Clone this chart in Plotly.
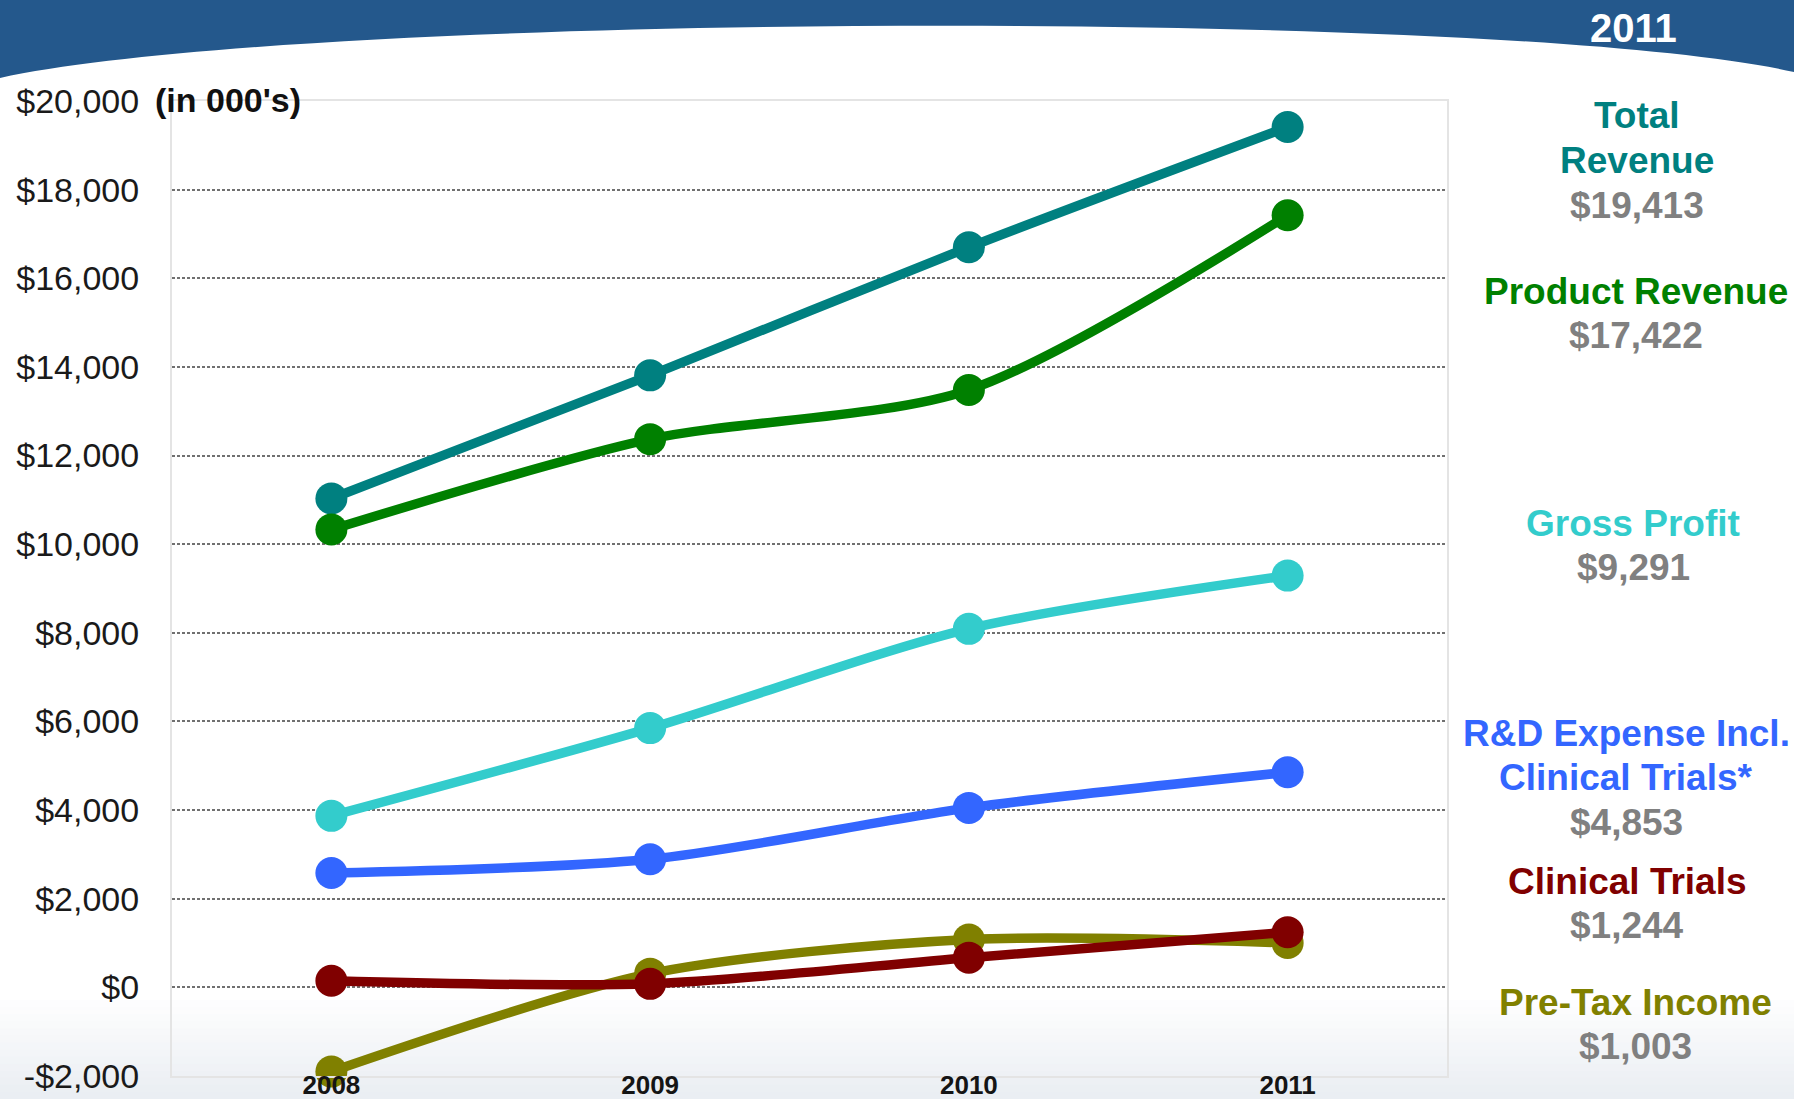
import plotly.graph_objects as go

# ---------------- data ----------------
years = ["2008", "2009", "2010", "2011"]
total_revenue = [11030, 13810, 16700, 19413]
product_revenue = [10330, 12370, 13480, 17422]
gross_profit = [3870, 5850, 8090, 9291]
rd_expense = [2580, 2890, 4050, 4853]
pretax_income = [-1900, 310, 1080, 1003]
clinical_trials = [150, 80, 670, 1244]

y_tickvals = [20000, 18000, 16000, 14000, 12000, 10000, 8000, 6000, 4000, 2000, 0, -2000]
y_ticktext = ["$20,000", "$18,000", "$16,000", "$14,000", "$12,000", "$10,000",
              "$8,000", "$6,000", "$4,000", "$2,000", "$0", "-$2,000"]

series_names = ["Total Revenue", "Product Revenue", "Gross Profit",
                "R&D Expense Incl. Clinical Trials*", "Pre-Tax Income", "Clinical Trials"]
series_values = [total_revenue, product_revenue, gross_profit, rd_expense,
                 pretax_income, clinical_trials]
series_colors = ["#008080", "#008000", "#33CCCC", "#3366FF", "#808000", "#800000"]

label_titles = ["Total<br>Revenue", "Product Revenue", "Gross Profit",
                "R&D Expense Incl.<br>Clinical Trials*", "Clinical Trials", "Pre-Tax Income"]
label_values = ["$19,413", "$17,422", "$9,291", "$4,853", "$1,244", "$1,003"]
label_colors = ["#008080", "#008000", "#33CCCC", "#3366FF", "#800000", "#808000"]

# ---------------- layout geometry (pixels) ----------------
FIG_W, FIG_H = 1794, 1099
L, R, T, B = 172, 1447, 101, 1076
W, H = R - L, B - T


def px(x):
    return (x - L) / W


def py(y):
    return (B - y) / H


FONT = "Arial, 'Liberation Sans', sans-serif"

fig = go.Figure()
for name, vals, col in zip(series_names, series_values, series_colors):
    fig.add_trace(go.Scatter(
        x=years, y=vals, name=name, mode="lines+markers",
        line=dict(color=col, width=9.5, shape="spline", smoothing=0.8),
        marker=dict(color=col, size=32),
        hoverinfo="skip", showlegend=False, cliponaxis=False,
    ))

shapes = []
# bottom background gradient
n = 14
top_px = 1000
for i in range(n):
    y0 = top_px + (FIG_H - top_px) * i / n
    t = (i + 1) / n
    r = int(255 - (255 - 234) * t)
    g = int(255 - (255 - 238) * t)
    b = int(255 - (255 - 243) * t)
    shapes.append(dict(type="rect", xref="paper", yref="paper",
                       x0=px(0), x1=px(FIG_W), y0=py(FIG_H), y1=py(y0),
                       fillcolor=f"rgb({r},{g},{b})", line=dict(width=0), layer="below"))

# header banner with curved lower edge
p = lambda x, y: f"{px(x):.5f},{py(y):.5f}"
path = (f"M {p(0, 78)} C {p(300, 12)} {p(1500, 7)} {p(1794, 72)} "
        f"L {p(1794, 0)} L {p(0, 0)} Z")
shapes.append(dict(type="path", xref="paper", yref="paper", path=path,
                   fillcolor="#24588C", line=dict(width=0), layer="above"))

annotations = [
    dict(text="<b>2011</b>", xref="paper", yref="paper", x=px(1633), y=py(28),
         showarrow=False, font=dict(family=FONT, size=40, color="white"),
         xanchor="center", yanchor="middle"),
    dict(text="<b>(in 000's)</b>", xref="paper", yref="paper", x=px(153), y=py(100),
         showarrow=False, font=dict(family=FONT, size=34, color="#111111"),
         xanchor="left", yanchor="middle"),
]

# first-line centre (x, y) of each right-hand label block, and line spacing in px
label_pos = [(1637, 116), (1636, 291), (1633, 523), (1626, 733), (1627, 881), (1635, 1002)]
LINE = 44.6
for title, val, col, (lx, ly) in zip(label_titles, label_values, label_colors, label_pos):
    lines = [(t, col) for t in title.split("<br>")] + [(val, "#808080")]
    for k, (txt, c) in enumerate(lines):
        annotations.append(dict(
            text=f"<b>{txt}</b>", xref="paper", yref="paper",
            x=px(lx), y=py(ly + k * LINE), showarrow=False,
            font=dict(family=FONT, size=37, color=c),
            xanchor="center", yanchor="middle", align="center"))

fig.update_layout(
    width=FIG_W, height=FIG_H,
    margin=dict(l=L, r=FIG_W - R, t=T, b=FIG_H - B, pad=0, autoexpand=False),
    paper_bgcolor="white", plot_bgcolor="rgba(255,255,255,0)",
    shapes=shapes, annotations=annotations,
    font=dict(family=FONT),
    xaxis=dict(type="category", range=[-0.5, 3.5], showgrid=False, zeroline=False,
               showline=True, mirror=True, linecolor="#E4E4E4", linewidth=2,
               ticks="", tickfont=dict(family=FONT, size=26, color="#151515", weight="bold"),
               ticklabelstandoff=-15, fixedrange=True, automargin=False),
    yaxis=dict(range=[-2000, 20000], tickvals=y_tickvals, ticktext=y_ticktext,
               showgrid=True, gridcolor="#707070", gridwidth=1.5, griddash="3px,2px",
               zeroline=False, showline=True, mirror=True, linecolor="#E4E4E4", linewidth=2,
               ticks="", tickfont=dict(family=FONT, size=34, color="#1a1a1a"),
               ticklabelstandoff=24, fixedrange=True, automargin=False),
)

fig.write_html("out.html")
